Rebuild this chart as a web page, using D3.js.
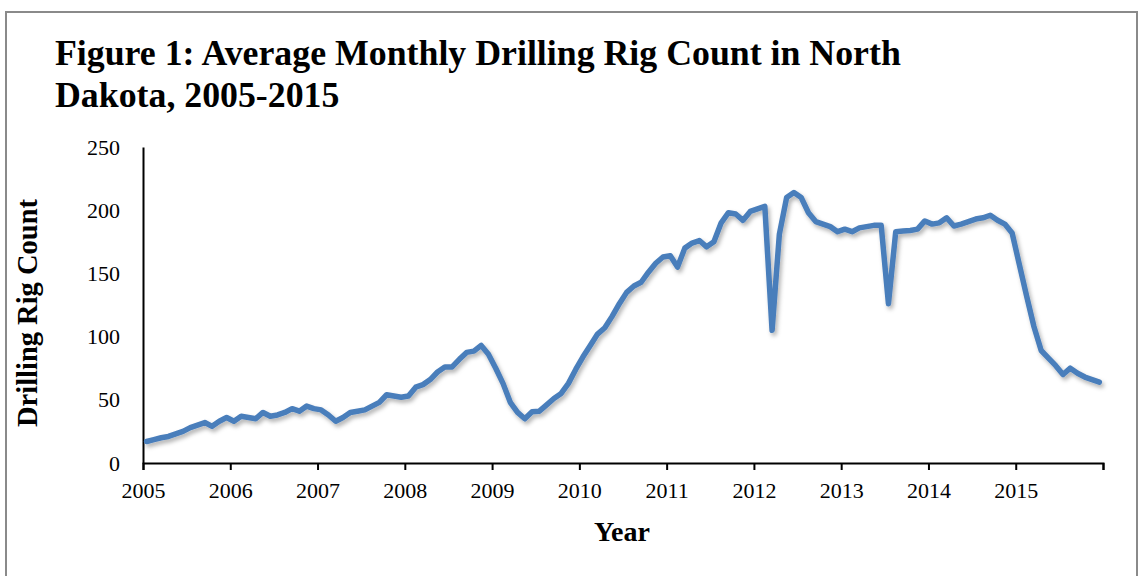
<!DOCTYPE html>
<html>
<head>
<meta charset="utf-8">
<script src="https://cdn.jsdelivr.net/npm/d3@7"></script>
<style>
  body { margin: 0; background: #fff; }
  svg { display: block; }
</style>
</head>
<body>
<div id="chart"></div>
<script>
// monthly average rig counts, North Dakota
var count2005 = [17, 18.5, 20, 21, 23, 25, 28, 30, 32, 29, 33, 36];
var count2006 = [33, 37, 36, 35, 40, 37, 38, 40, 43, 41, 45, 43];
var count2007 = [42, 38, 33, 36, 40, 41, 42, 45, 48, 54, 53, 52];
var count2008 = [53, 60, 62, 66, 72, 76, 76, 82, 87.5, 88.5, 93, 86];
var count2009 = [75, 63, 48, 40, 35, 40.5, 41, 46, 51, 55, 63, 74];
var count2010 = [84, 93, 102, 107, 116, 126, 135, 140, 143, 151, 158, 163];
var count2011 = [164, 155, 170, 174, 176, 171, 175, 190, 198, 197, 192, 199];
var count2012 = [201, 203, 105, 181, 210, 214, 210, 198, 191, 189, 187, 183];
var count2013 = [185, 183, 186, 187, 188, 188, 126, 183, 183.5, 184, 185, 191.5];
var count2014 = [189, 190, 194, 187.5, 189, 191, 193, 194, 196, 192, 189, 182];
var count2015 = [157, 132, 108, 89, 83, 77, 70, 75, 71, 68, 66, 64];

var yearLabels = ["2005", "2006", "2007", "2008", "2009", "2010", "2011", "2012", "2013", "2014", "2015"];
var yTicks = [0, 50, 100, 150, 200, 250];

var titleLines = ["Figure 1: Average Monthly Drilling Rig Count in North", "Dakota, 2005-2015"];

var months = [].concat(count2005, count2006, count2007, count2008, count2009, count2010,
  count2011, count2012, count2013, count2014, count2015);

var w = 1141, h = 576;
// plot box (window.top is reserved, so no bare "top")
var plotLeft = 143, plotRight = 1103, plotTop = 147, plotBottom = 463;

var svg = d3.select("#chart")
  .append("svg")
  .attr("width", w)
  .attr("height", h);

// soft shadow under the line
var filter = svg.append("defs").append("filter")
  .attr("id", "shadow")
  .attr("x", "-5%").attr("y", "-5%")
  .attr("width", "110%").attr("height", "120%");
filter.append("feDropShadow")
  .attr("dx", 2).attr("dy", 3)
  .attr("stdDeviation", 2)
  .attr("flood-color", "#000")
  .attr("flood-opacity", 0.3);

// frame
svg.append("rect")
  .attr("x", 6).attr("y", 12)
  .attr("width", 1131).attr("height", 620)
  .attr("fill", "none")
  .attr("stroke", "#8a8a8a")
  .attr("stroke-width", 2);

// title
svg.append("text")
  .attr("font-family", "Liberation Serif")
  .attr("font-weight", "bold")
  .attr("font-size", 35.8)
  .attr("fill", "#000")
  .selectAll("tspan")
  .data(titleLines)
  .enter().append("tspan")
  .attr("x", 55)
  .attr("y", function (d, i) { return 65 + i * 42; })
  .text(function (d) { return d; });

// scales: 132 months, each point centred in its month slot
var x = d3.scaleLinear().domain([0, months.length]).range([plotLeft, plotRight]);
var y = d3.scaleLinear().domain([0, 250]).range([plotBottom, plotTop]);

// x axis: ticks every 12 months, year label under each tick
var xAxis = d3.axisBottom(x)
  .tickValues(d3.range(0, months.length + 1, 12))
  .tickSize(7)
  .tickFormat(function (d) { return yearLabels[d / 12] || ""; });

var gx = svg.append("g")
  .attr("transform", "translate(0," + plotBottom + ")")
  .call(xAxis);
gx.select(".domain").attr("stroke", "#000").attr("stroke-width", 2);
gx.selectAll(".tick line").attr("stroke", "#000").attr("stroke-width", 2);
gx.selectAll(".tick text")
  .attr("font-family", "Liberation Serif")
  .attr("font-size", 22)
  .attr("fill", "#000")
  .attr("dy", "0.95em")
  .attr("y", 14);

// y axis: line only, no tick marks
var yAxis = d3.axisLeft(y)
  .tickValues(yTicks)
  .tickSize(0)
  .tickPadding(23);

var gy = svg.append("g")
  .attr("transform", "translate(" + plotLeft + ",0)")
  .call(yAxis);
gy.select(".domain").attr("stroke", "#000").attr("stroke-width", 2);
gy.selectAll(".tick text")
  .attr("font-family", "Liberation Serif")
  .attr("font-size", 22)
  .attr("fill", "#000");

// axis titles
svg.append("text")
  .attr("transform", "translate(37," + ((plotTop + plotBottom) / 2 + 8) + ") rotate(-90)")
  .attr("text-anchor", "middle")
  .attr("font-family", "Liberation Serif")
  .attr("font-weight", "bold")
  .attr("font-size", 28.5)
  .text("Drilling Rig Count");

svg.append("text")
  .attr("x", 622)
  .attr("y", 541)
  .attr("text-anchor", "middle")
  .attr("font-family", "Liberation Serif")
  .attr("font-weight", "bold")
  .attr("font-size", 28)
  .text("Year");

// the series
var line = d3.line()
  .x(function (d, i) { return x(i + 0.5); })
  .y(function (d) { return y(d); });

svg.append("path")
  .datum(months)
  .attr("d", line)
  .attr("fill", "none")
  .attr("stroke", "#4a7ebb")
  .attr("stroke-width", 5.5)
  .attr("stroke-linejoin", "round")
  .attr("stroke-linecap", "round")
  .attr("filter", "url(#shadow)");
</script>
</body>
</html>
